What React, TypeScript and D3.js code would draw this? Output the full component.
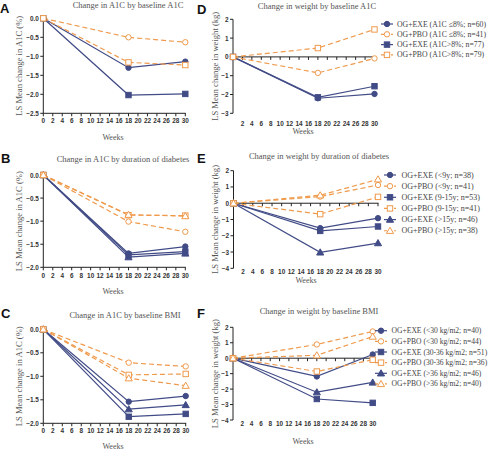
import React from 'react';
import * as d3 from 'd3';

// ---------- data ----------
const WEEKS = [0, 18, 30];
const X_TICKS = d3.range(0, 31, 2);

// A: change in A1C by baseline A1C
const A_EXE_LE8 = [0, -1.3, -1.14];
const A_PBO_LE8 = [0, -0.5, -0.63];
const A_EXE_GT8 = [0, -2.02, -1.99];
const A_PBO_GT8 = [0, -1.16, -1.23];

// B: change in A1C by duration of diabetes
const B_EXE_LT9 = [0, -1.7, -1.55];
const B_PBO_LT9 = [0, -1.01, -1.23];
const B_EXE_9_15 = [0, -1.73, -1.66];
const B_PBO_9_15 = [0, -0.87, -0.88];
const B_EXE_GT15 = [0, -1.78, -1.7];
const B_PBO_GT15 = [0, -0.86, -0.89];

// C: change in A1C by baseline BMI
const C_EXE_LT30 = [0, -1.54, -1.42];
const C_PBO_LT30 = [0, -0.71, -0.79];
const C_EXE_30_36 = [0, -1.86, -1.8];
const C_PBO_30_36 = [0, -0.97, -0.95];
const C_EXE_GT36 = [0, -1.7, -1.61];
const C_PBO_GT36 = [0, -1.04, -1.2];

// D: change in weight by baseline A1C
const D_EXE_LE8 = [0, -2.2, -1.97];
const D_PBO_LE8 = [0, -0.85, -0.08];
const D_EXE_GT8 = [0, -2.15, -1.56];
const D_PBO_GT8 = [0, 0.47, 1.46];

// E: change in weight by duration of diabetes
const E_EXE_LT9 = [0, -1.53, -0.92];
const E_PBO_LT9 = [0, 0.41, 1.12];
const E_EXE_9_15 = [0, -1.7, -1.43];
const E_PBO_9_15 = [0, -0.67, 0.39];
const E_EXE_GT15 = [0, -3.02, -2.45];
const E_PBO_GT15 = [0, 0.49, 1.47];

// F: change in weight by baseline BMI
const F_EXE_LT30 = [0, -1.18, 0.24];
const F_PBO_LT30 = [0, 0.89, 1.73];
const F_EXE_30_36 = [0, -2.64, -2.89];
const F_PBO_30_36 = [0, -0.86, -0.1];
const F_EXE_GT36 = [0, -2.2, -1.57];
const F_PBO_GT36 = [0, 0.19, 1.4];

const LEGEND_D = [
  'OG+EXE (A1C ≤8%; n=60)',
  'OG+PBO (A1C ≤8%; n=41)',
  'OG+EXE (A1C>8%; n=77)',
  'OG+PBO (A1C>8%; n=79)',
];
const LEGEND_E = [
  'OG+EXE (<9y; n=38)',
  'OG+PBO (<9y; n=41)',
  'OG+EXE (9-15y; n=53)',
  'OG+PBO (9-15y; n=41)',
  'OG+EXE (>15y; n=46)',
  'OG+PBO (>15y; n=38)',
];
const LEGEND_F = [
  'OG+EXE (<30 kg/m2; n=40)',
  'OG+PBO (<30 kg/m2; n=44)',
  'OG+EXE (30-36 kg/m2; n=51)',
  'OG+PBO (30-36 kg/m2; n=36)',
  'OG+EXE (>36 kg/m2; n=46)',
  'OG+PBO (>36 kg/m2; n=40)',
];

// ---------- styles ----------
const NAVY = '#414b86';
const ORANGE = '#ef9a4c';
const SERIF = '"Liberation Serif", "Times New Roman", serif';
const SANS = '"Liberation Sans", Arial, sans-serif';
const TXT = '#555';

type Shape = 'circle' | 'square' | 'triangle';
type Series = { values: number[]; exe: boolean; shape: Shape };

const SHAPES3: Shape[] = ['circle', 'square', 'triangle'];
function mk(list: number[][]): Series[] {
  return list.map((v, i) => ({ values: v, exe: i % 2 === 0, shape: SHAPES3[Math.floor(i / 2)] }));
}

type PanelCfg = {
  letter: string;
  letterX: number;
  letterY: number;
  title: string;
  titleX: number;
  titleY: number;
  yLabel: string;
  yLabelX: number;
  xRange: [number, number];
  yDomain: [number, number];
  yRange: [number, number];
  yStep: number;
  yFmt: (v: number) => string;
  axisAtZero: boolean;
  tickLabelY: number;
  weeksX: number;
  weeksY: number;
  series: Series[];
  legend?: { labels: string[]; markerX: number; textX: number; y0: number; dy: number; size: number };
};

function Marker({ shape, x, y, exe }: { shape: Shape; x: number; y: number; exe: boolean }) {
  const color = exe ? NAVY : ORANGE;
  const fill = exe ? NAVY : '#fff';
  const sw = 1;
  if (shape === 'circle') return <circle cx={x} cy={y} r={2.7} fill={fill} stroke={color} strokeWidth={sw} />;
  if (shape === 'square') return <rect x={x - 2.7} y={y - 2.7} width={5.4} height={5.4} fill={fill} stroke={color} strokeWidth={sw} />;
  const sym = d3.symbol().type(d3.symbolTriangle).size(22)();
  return <path d={sym || ''} transform={`translate(${x},${y + 0.6})`} fill={fill} stroke={color} strokeWidth={sw} />;
}

function Panel({ cfg }: { cfg: PanelCfg }) {
  const x = d3.scaleLinear().domain([0, 30]).range(cfg.xRange);
  const y = d3.scaleLinear().domain(cfg.yDomain).range(cfg.yRange);
  const yTicks = d3.range(cfg.yDomain[0], cfg.yDomain[1] + 1e-9, cfg.yStep);
  const line = d3
    .line<number>()
    .x((_, i) => x(WEEKS[i]))
    .y((d) => y(d));
  const x0 = cfg.xRange[0];
  const axisY = cfg.axisAtZero ? y(0) : y(cfg.yDomain[0]);
  const plotTop = y(cfg.yDomain[1]);
  const plotBot = y(cfg.yDomain[0]);
  const yMid = (plotTop + plotBot) / 2;
  const xTicks = cfg.axisAtZero ? X_TICKS.filter((t) => t > 0) : X_TICKS;
  const order = [...cfg.series].sort((a, b) => (a.exe === b.exe ? 0 : a.exe ? -1 : 1));
  return (
    <g>
      <text x={cfg.letterX} y={cfg.letterY} fontFamily={SANS} fontWeight="bold" fontSize={13} fill="#111">
        {cfg.letter}
      </text>
      <text x={cfg.titleX} y={cfg.titleY} textAnchor="middle" fontFamily={SERIF} fontWeight="normal" fontSize={8.5} fill={TXT}>
        {cfg.title}
      </text>
      <text
        transform={`translate(${cfg.yLabelX},${yMid}) rotate(-90)`}
        textAnchor="middle"
        dominantBaseline="central"
        fontFamily={SERIF}
        fontWeight="normal"
        fontSize={8.6}
        fill={TXT}
      >
        {cfg.yLabel}
      </text>
      {/* y axis */}
      <line x1={x0} x2={x0} y1={plotTop} y2={plotBot} stroke="#222" strokeWidth={1} />
      {yTicks.map((t) => (
        <g key={t}>
          <line x1={x0 - 3} x2={x0} y1={y(t)} y2={y(t)} stroke="#222" strokeWidth={1} />
          <text
            x={x0 - 4.5}
            y={y(t)}
            textAnchor="end"
            dominantBaseline="central"
            fontFamily={SANS}
            fontWeight="bold"
            fontSize={6.4}
            fill="#333"
          >
            {cfg.yFmt(t)}
          </text>
        </g>
      ))}
      {/* x axis */}
      <line x1={x0} x2={cfg.xRange[1] + 0.5} y1={axisY} y2={axisY} stroke="#222" strokeWidth={1} />
      {xTicks.map((t) => (
        <g key={t}>
          <line x1={x(t)} x2={x(t)} y1={axisY} y2={axisY + 3} stroke="#222" strokeWidth={1} />
          <text
            x={x(t)}
            y={cfg.tickLabelY}
            textAnchor="middle"
            dominantBaseline="central"
            fontFamily={SANS}
            fontWeight="bold"
            fontSize={6.4}
            fill="#333"
          >
            {t}
          </text>
        </g>
      ))}
      <text
        x={cfg.weeksX}
        y={cfg.weeksY}
        textAnchor="middle"
        dominantBaseline="central"
        fontFamily={SERIF}
        fontWeight="normal"
        fontSize={8}
        fill={TXT}
      >
        Weeks
      </text>
      {/* lines */}
      {order.map((s, i) => (
        <path
          key={'l' + i}
          d={line(s.values) || ''}
          fill="none"
          stroke={s.exe ? NAVY : ORANGE}
          strokeWidth={1.2}
          strokeDasharray={s.exe ? undefined : '5,3'}
        />
      ))}
      {order.map((s, i) =>
        s.values.map((v, j) => <Marker key={'m' + i + '-' + j} shape={s.shape} exe={s.exe} x={x(WEEKS[j])} y={y(v)} />)
      )}
      {cfg.legend &&
        cfg.legend.labels.map((lab, i) => {
          const s = cfg.series[i];
          const ly = cfg.legend!.y0 + i * cfg.legend!.dy;
          const mx = cfg.legend!.markerX;
          return (
            <g key={'lg' + i}>
              <line
                x1={mx - 6}
                x2={mx + 6}
                y1={ly}
                y2={ly}
                stroke={s.exe ? NAVY : ORANGE}
                strokeWidth={1.2}
                strokeDasharray={s.exe ? undefined : '3,2'}
              />
              <Marker shape={s.shape} exe={s.exe} x={mx} y={ly} />
              <text
                x={cfg.legend!.textX}
                y={ly}
                dominantBaseline="central"
                fontFamily={SERIF}
                fontWeight="normal"
                fontSize={cfg.legend!.size}
                fill="#444"
              >
                {lab}
              </text>
            </g>
          );
        })}
    </g>
  );
}

const f1 = (v: number) => (Math.abs(v) < 1e-9 ? '0.0' : d3.format('.1f')(v));
const f0 = (v: number) => d3.format('d')(Math.round(v));

const PANELS: PanelCfg[] = [
  {
    letter: 'A', letterX: 0, letterY: 13,
    title: 'Change in A1C by baseline A1C', titleX: 128, titleY: 8,
    yLabel: 'LS Mean change in A1C (%)', yLabelX: 19,
    xRange: [43.3, 185.3], yDomain: [-2.5, 0], yRange: [113.3, 18.3], yStep: 0.5, yFmt: f1,
    axisAtZero: false, tickLabelY: 120, weeksX: 113, weeksY: 137,
    series: [
      { values: A_EXE_LE8, exe: true, shape: 'circle' },
      { values: A_PBO_LE8, exe: false, shape: 'circle' },
      { values: A_EXE_GT8, exe: true, shape: 'square' },
      { values: A_PBO_GT8, exe: false, shape: 'square' },
    ],
  },
  {
    letter: 'B', letterX: 1, letterY: 163,
    title: 'Change in A1C by duration of diabetes', titleX: 123, titleY: 162,
    yLabel: 'LS Mean change in A1C (%)', yLabelX: 19,
    xRange: [43.3, 185.3], yDomain: [-2, 0], yRange: [267.3, 175], yStep: 0.5, yFmt: f1,
    axisAtZero: false, tickLabelY: 275, weeksX: 113, weeksY: 291.5,
    series: mk([B_EXE_LT9, B_PBO_LT9, B_EXE_9_15, B_PBO_9_15, B_EXE_GT15, B_PBO_GT15]),
  },
  {
    letter: 'C', letterX: 1, letterY: 318,
    title: 'Change in A1C by baseline BMI', titleX: 125, titleY: 318,
    yLabel: 'LS Mean change in A1C (%)', yLabelX: 19,
    xRange: [43.3, 185.7], yDomain: [-2, 0], yRange: [423.3, 329.3], yStep: 0.5, yFmt: f1,
    axisAtZero: false, tickLabelY: 430.7, weeksX: 113, weeksY: 446.5,
    series: mk([C_EXE_LT30, C_PBO_LT30, C_EXE_30_36, C_PBO_30_36, C_EXE_GT36, C_PBO_GT36]),
  },
  {
    letter: 'D', letterX: 197, letterY: 14,
    title: 'Change in weight by baseline A1C', titleX: 317, titleY: 9,
    yLabel: 'LS Mean change in weight (kg)', yLabelX: 215,
    xRange: [233, 374.5], yDomain: [-3, 2], yRange: [113.3, 19.3], yStep: 1, yFmt: f0,
    axisAtZero: true, tickLabelY: 123, weeksX: 303, weeksY: 131.7,
    series: [
      { values: D_EXE_LE8, exe: true, shape: 'circle' },
      { values: D_PBO_LE8, exe: false, shape: 'circle' },
      { values: D_EXE_GT8, exe: true, shape: 'square' },
      { values: D_PBO_GT8, exe: false, shape: 'square' },
    ],
    legend: { labels: LEGEND_D, markerX: 387, textX: 397, y0: 24, dy: 10.3, size: 7.75 },
  },
  {
    letter: 'E', letterX: 197, letterY: 163,
    title: 'Change in weight by duration of diabetes', titleX: 319, titleY: 159,
    yLabel: 'LS Mean change in weight (kg)', yLabelX: 215,
    xRange: [233.5, 378], yDomain: [-4, 2], yRange: [268.3, 170.7], yStep: 1, yFmt: f0,
    axisAtZero: true, tickLabelY: 271.7, weeksX: 306, weeksY: 280.5,
    series: mk([E_EXE_LT9, E_PBO_LT9, E_EXE_9_15, E_PBO_9_15, E_EXE_GT15, E_PBO_GT15]),
    legend: { labels: LEGEND_E, markerX: 390, textX: 401.5, y0: 175, dy: 11.15, size: 8 },
  },
  {
    letter: 'F', letterX: 197, letterY: 318,
    title: 'Change in weight by baseline BMI', titleX: 319, titleY: 314,
    yLabel: 'LS Mean change in weight (kg)', yLabelX: 215,
    xRange: [233, 372.7], yDomain: [-4, 2], yRange: [420, 327.3], yStep: 1, yFmt: f0,
    axisAtZero: true, tickLabelY: 423.3, weeksX: 303, weeksY: 441.5,
    series: mk([F_EXE_LT30, F_PBO_LT30, F_EXE_30_36, F_PBO_30_36, F_EXE_GT36, F_PBO_GT36]),
    legend: { labels: LEGEND_F, markerX: 381, textX: 391.5, y0: 330.7, dy: 10.65, size: 7.6 },
  },
];

export default function App() {
  return (
    <svg
      width={489}
      height={450}
      viewBox="0 0 489 450"
      style={{ position: 'absolute', left: 0, top: 0, background: '#fff' }}
    >
      <rect width={489} height={450} fill="#fff" />
      {PANELS.map((p) => (
        <Panel key={p.letter} cfg={p} />
      ))}
    </svg>
  );
}
